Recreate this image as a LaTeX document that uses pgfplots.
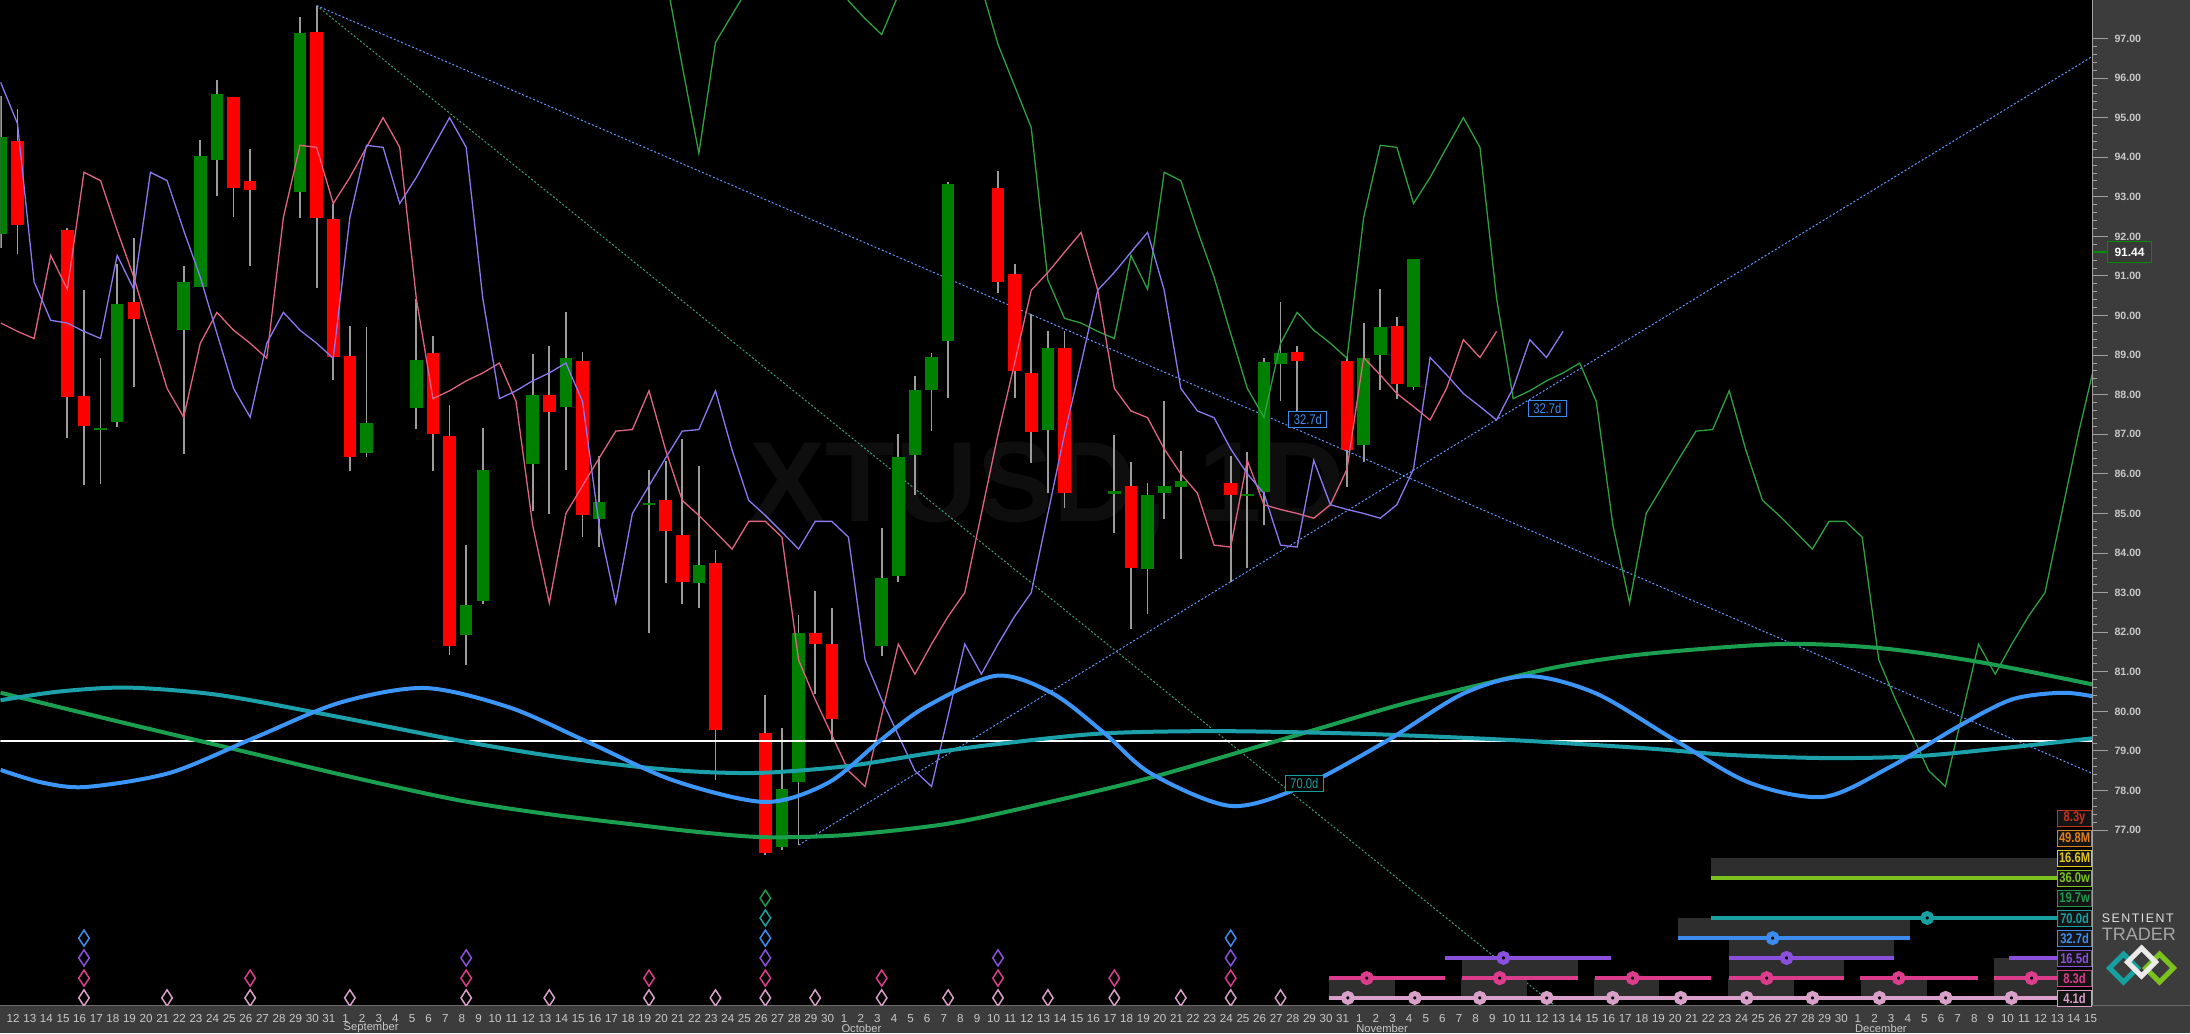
\documentclass[border=0pt]{standalone}
\usepackage{pgfplots}
\pgfplotsset{compat=1.18}
\usepackage{pgfplotstable}
\usepackage{fontspec}
\setmainfont{Liberation Sans}
\newfontfamily\narrow[FakeStretch=0.8]{Liberation Sans}
\usetikzlibrary{plotmarks}

\definecolor{panel}{HTML}{3C3C3C}
\definecolor{panelline}{HTML}{6A6A6A}
\definecolor{labgray}{HTML}{C8C8C8}
\definecolor{tickgray}{HTML}{A0A0A0}
\definecolor{cup}{HTML}{008000}
\definecolor{cdn}{HTML}{FF0000}
\definecolor{wick}{HTML}{9C9C9C}
\definecolor{fldpink}{HTML}{E06482}
\definecolor{fldpurple}{HTML}{8C78F0}
\definecolor{fldgreen}{HTML}{2EA043}
\definecolor{trendblue}{HTML}{6496FF}
\definecolor{trendteal}{HTML}{3CA078}
\definecolor{cycblue}{HTML}{3C96F8}
\definecolor{cycteal}{HTML}{1CA0AA}
\definecolor{cycgreen}{HTML}{1A9E50}
\definecolor{boxgray}{HTML}{2E2E2E}
\definecolor{wmark}{HTML}{0E0E0E}
\definecolor{cyr}{HTML}{C8321E}
\definecolor{cmo}{HTML}{E0801A}
\definecolor{cmt}{HTML}{E0C81A}
\definecolor{cwa}{HTML}{7CC21E}
\definecolor{cwb}{HTML}{1E9A50}
\definecolor{cda}{HTML}{18A0A0}
\definecolor{cdb}{HTML}{3C8CF0}
\definecolor{cdc}{HTML}{8A50DC}
\definecolor{cdd}{HTML}{DC3C8C}
\definecolor{cde}{HTML}{D8A0C8}

% daily candles, u = day counted from 12 Aug
\pgfplotstableread{
u o h l c
-1 92.05 95.55 91.71 94.51
5 87.10 88.93 85.75 87.16
6 87.31 91.29 87.19 90.30
10 89.63 91.25 86.50 90.85
11 90.73 94.43 90.73 94.03
12 93.92 95.95 93.02 95.59
17 93.11 97.55 92.47 97.13
21 86.53 89.71 86.42 87.29
24 87.67 90.41 87.14 88.87
27 81.93 84.21 81.16 82.69
28 82.78 87.16 82.71 86.11
31 86.25 89.02 85.05 87.99
33 87.69 90.10 86.11 88.93
35 84.86 86.44 84.15 85.28
38 85.21 86.11 81.98 85.27
41 83.24 86.19 82.61 83.69
46 76.58 79.57 76.49 78.05
47 78.22 82.44 76.62 81.99
52 81.64 84.63 81.39 83.38
53 83.41 87.02 83.28 86.43
54 86.49 88.47 85.47 88.11
55 88.11 89.05 87.09 88.95
56 89.35 93.38 87.92 93.32
62 87.11 89.60 85.53 89.17
66 85.50 86.98 84.51 85.56
68 83.59 85.76 82.46 85.47
69 85.53 87.85 84.85 85.70
70 85.67 86.57 83.84 85.81
74 85.44 86.55 83.61 85.50
75 85.55 88.92 84.72 88.83
76 88.78 90.33 87.85 89.06
81 86.72 89.82 86.30 88.94
82 89.00 90.67 88.11 89.71
84 88.19 91.44 88.11 91.44
}\upc

\pgfplotstableread{
u o h l c
0 94.41 95.21 91.56 92.30
3 92.17 92.22 86.91 87.95
4 87.96 90.64 85.73 87.20
7 90.34 91.95 88.19 89.92
13 95.53 95.53 92.49 93.23
14 93.40 94.20 91.25 93.18
18 97.17 97.83 90.69 92.47
19 92.43 92.81 88.38 88.95
20 88.97 89.73 86.07 86.43
25 89.06 89.48 86.07 87.00
26 86.95 87.73 81.43 81.64
32 87.99 89.23 84.99 87.57
34 88.85 89.08 84.40 84.97
39 85.33 86.33 83.24 84.55
40 84.45 86.89 82.71 83.28
42 83.76 84.08 78.26 79.53
45 79.45 80.42 76.37 76.41
48 81.97 83.03 80.43 81.70
49 81.70 82.62 79.23 79.81
59 93.21 93.66 90.56 90.86
60 91.04 91.31 87.92 88.60
61 88.56 90.05 86.27 87.06
63 89.17 89.62 85.14 85.53
67 85.70 86.30 82.09 83.63
73 85.78 86.46 83.27 85.47
77 89.09 89.23 87.59 88.86
80 88.86 88.95 85.67 86.60
83 89.73 89.96 87.90 88.26
}\dnc

% base line (pink); purple is it 4 days later, green 65 days later
\pgfplotstableread{
u v
-1 89.81
0 89.60
1 89.42
2 91.52
3 90.66
4 93.62
5 93.41
6 92.15
7 90.97
8 89.55
9 88.16
10 87.43
11 89.30
12 90.08
13 89.63
14 89.30
15 88.92
16 92.48
17 94.30
18 94.25
19 92.83
20 93.49
21 94.25
22 95.00
23 94.25
24 90.43
25 87.90
26 88.10
27 88.35
28 88.55
29 88.80
30 87.83
31 84.70
32 82.74
33 85.00
34 85.70
35 86.40
36 87.08
37 87.12
38 88.10
39 86.60
40 85.33
41 84.95
42 84.53
43 84.10
44 84.80
45 84.80
46 84.40
47 81.30
48 80.30
49 79.40
50 78.50
51 78.10
52 79.90
53 81.70
54 80.94
55 81.70
56 82.40
57 83.00
58 85.00
59 87.00
60 88.80
61 90.64
62 91.09
63 91.60
64 92.10
65 90.64
66 88.16
67 87.59
68 87.42
69 86.63
70 86.00
71 85.51
72 84.20
73 84.15
74 86.34
75 85.22
76 85.10
77 85.00
78 84.88
79 85.22
80 86.12
81 88.94
82 88.50
83 88.03
84 87.70
85 87.36
86 88.17
87 89.39
88 88.94
89 89.60
}\fld

\pgfplotsset{
  candle/.style 2 args={only marks, mark=*, mark size=0pt, mark options={draw=none, fill=none},
    error bars/.cd, y dir=both, y explicit, error mark=none,
    error bar style={draw=#1, line width=#2}},
}

\begin{document}
\begin{tikzpicture}
\begin{scope}[x=0.5pt,y=-0.5pt,shift={(0pt,516.5pt)}]
  \fill[black] (0,0) rectangle (2093,1005);
  \fill[panel] (2093,0) rectangle (2190,1033);
  \fill[panel] (0,1005) rectangle (2190,1033);
  \draw[panelline, line width=0.5pt] (0,1005) -- (2190,1005);
  \node[text=wmark, font=\bfseries\fontsize{57}{57}\selectfont] at (1047,490) {XTUSD, 1D};
\end{scope}

\begin{axis}[
  at={(0pt,14pt)}, anchor=south west,
  width=1046.5pt, height=502.5pt, scale only axis,
  xmin=-1.022, xmax=124.86, ymin=72.58, ymax=97.96,
  axis line style={draw=none},
  tick align=outside,
  xtick pos=left, ytick pos=right, yticklabel pos=right,
  major tick length=7.5pt, minor tick length=2pt,
  xtick={-0.26,0.74,...,124.8},
  xticklabels={12,13,14,15,16,17,18,19,20,21,22,23,24,25,26,27,28,29,30,31,
    1,2,3,4,5,6,7,8,9,10,11,12,13,14,15,16,17,18,19,20,21,22,23,24,25,26,27,28,29,30,
    1,2,3,4,5,6,7,8,9,10,11,12,13,14,15,16,17,18,19,20,21,22,23,24,25,26,27,28,29,30,31,
    1,2,3,4,5,6,7,8,9,10,11,12,13,14,15,16,17,18,19,20,21,22,23,24,25,26,27,28,29,30,
    1,2,3,4,5,6,7,8,9,10,11,12,13,14,15},
  xtick style={draw=none},
  ytick={77,...,97},
  yticklabels={77.00,78.00,79.00,80.00,81.00,82.00,83.00,84.00,85.00,86.00,87.00,
    88.00,89.00,90.00,91.00,92.00,93.00,94.00,95.00,96.00,97.00},
  minor y tick num=4,
  ytick style={draw=tickgray, line width=0.5pt},
  xticklabel style={font=\fontsize{5.8}{6}\selectfont, text=labgray, yshift=6.2pt},
  yticklabel style={font=\bfseries\fontsize{5.3}{6}\selectfont, text=labgray},
  clip marker paths=true,
]
% trend lines
\addplot[trendteal, line width=0.5pt, dash pattern=on 1pt off 1pt] coordinates {(18,97.83) (94,72.06)};
\addplot[trendblue, line width=0.5pt, dash pattern=on 1pt off 1pt] coordinates {(18,97.83) (124.86,78.43)};
\addplot[trendblue, line width=0.5pt, dash pattern=on 1pt off 1pt] coordinates {(47,76.62) (124.86,96.55)};

% candles: wicks then bodies
\addplot[candle={wick}{0.9pt}]
  table[x=u, y expr={(\thisrow{h}+\thisrow{l})/2}, y error expr={(\thisrow{h}-\thisrow{l})/2}] {\upc};
\addplot[candle={wick}{0.9pt}]
  table[x=u, y expr={(\thisrow{h}+\thisrow{l})/2}, y error expr={(\thisrow{h}-\thisrow{l})/2}] {\dnc};
\addplot[candle={cup}{6.3pt}]
  table[x=u, y expr={(\thisrow{o}+\thisrow{c})/2}, y error expr={abs(\thisrow{c}-\thisrow{o})/2}] {\upc};
\addplot[candle={cdn}{6.3pt}]
  table[x=u, y expr={(\thisrow{o}+\thisrow{c})/2}, y error expr={abs(\thisrow{c}-\thisrow{o})/2}] {\dnc};

% thin offset lines
\addplot[fldgreen, line width=0.65pt] coordinates {(38,99.5) (39,98.6) (40,96.3) (41,94.1) (42,96.9)
  (43,97.6) (44,98.3) (45,99.2) (46,99.5) (47,99.5) (48,99.3) (49,98.8) (50,97.95) (51,97.5) (52,97.1)
  (53,98.1) (54,98.9) (55,99.3) (56,99.3) (57,99.0) (58,98.3) (59,96.85) (60,95.8) (61,94.75)
  (62,90.9) (63,89.93) (64,89.81)};
\addplot[fldgreen, line width=0.65pt] table[x expr=\thisrow{u}+65, y=v] {\fld};
\addplot[fldpink, line width=0.65pt] table[x=u, y=v] {\fld};
\addplot[fldpurple, line width=0.65pt] coordinates {(-1.02,95.90) (0,94.85) (1,90.85) (2,89.88) (3,89.81)};
\addplot[fldpurple, line width=0.65pt] table[x expr=\thisrow{u}+4, y=v] {\fld};

% white level line
\addplot[white, line width=1pt] coordinates {(-1.022,79.26) (124.86,79.26)};

% cycle curves
\addplot[cycgreen, line width=2pt, smooth] coordinates {(-1.02,80.47) (6,79.75) (13,79.05) (20,78.35)
  (26.6,77.75) (32,77.4) (37.3,77.13) (41,76.95) (45,76.82) (50,76.88) (56.1,77.17) (62,77.7)
  (68.4,78.35) (77.3,79.44) (83.2,80.17) (88.3,80.7) (93,81.15) (98.2,81.46) (106.1,81.7)
  (112,81.6) (118,81.25) (124.86,80.68)};
\addplot[cycteal, line width=2pt, smooth] coordinates {(-1.02,80.28) (2.5,80.5) (6.65,80.6) (12,80.42)
  (18.2,79.95) (26.6,79.26) (32,78.88) (37.3,78.6) (41.2,78.47) (45,78.45) (50,78.62) (55,78.95)
  (59.1,79.18) (65.2,79.44) (72.2,79.5) (80.3,79.44) (86,79.35) (91,79.25) (98.2,79.06) (103,78.9)
  (108.7,78.82) (114,78.86) (119,79.05) (124.86,79.32)};
\addplot[cycblue, line width=2pt, smooth] coordinates {(-1.02,78.52) (1.5,78.2) (4.15,78.09) (9.2,78.45)
  (14.3,79.34) (19.4,80.22) (24.5,80.59) (29.6,80.1) (34.3,79.23) (39.5,78.25) (45,77.71) (48.8,78.2)
  (51.9,79.26) (54.6,80.1) (58.9,80.9) (62.3,80.45) (65.4,79.45) (68.2,78.43) (73,77.61) (77.3,78.1)
  (82.3,79.23) (87,80.45) (90.9,80.89) (95,80.45) (99.7,79.28) (104.2,78.2) (108.7,77.84)
  (112.7,78.6) (116.7,79.6) (120,80.3) (123,80.47) (124.86,80.38)};

% cycle trough diamonds
\addplot[only marks, mark=diamond, mark size=3.5pt, mark options={draw=cde, line width=0.75pt, yscale=1.15}]
  coordinates {(4,72.76) (9,72.76) (14,72.76) (20,72.76) (27,72.76) (32,72.76) (38,72.76) (42,72.76)
  (45,72.76) (48,72.76) (52,72.76) (56,72.76) (59,72.76) (62,72.76) (66,72.76) (70,72.76) (73,72.76) (76,72.76)};
\addplot[only marks, mark=diamond, mark size=3.5pt, mark options={draw=cdd, line width=0.75pt, yscale=1.15}]
  coordinates {(4,73.26) (14,73.26) (27,73.26) (38,73.26) (45,73.26) (52,73.26) (59,73.26) (66,73.26) (73,73.26)};
\addplot[only marks, mark=diamond, mark size=3.5pt, mark options={draw=cdc, line width=0.75pt, yscale=1.15}]
  coordinates {(4,73.77) (27,73.77) (45,73.77) (59,73.77) (73,73.77)};
\addplot[only marks, mark=diamond, mark size=3.5pt, mark options={draw=cdb, line width=0.75pt, yscale=1.15}]
  coordinates {(4,74.27) (45,74.27) (73,74.27)};
\addplot[only marks, mark=diamond, mark size=3.5pt, mark options={draw=cda, line width=0.75pt, yscale=1.15}]
  coordinates {(45,74.78)};
\addplot[only marks, mark=diamond, mark size=3.5pt, mark options={draw=cwb, line width=0.75pt, yscale=1.15}]
  coordinates {(45,75.28)};

% cycle phase boxes
\addplot[fill=boxgray, draw=none] coordinates {(101.88,76.29) (122.75,76.29) (122.75,75.79) (101.88,75.79)};
\addplot[fill=boxgray, draw=none] coordinates {(99.90,74.78) (113.85,74.78) (113.85,74.27) (99.90,74.27)};
\addplot[fill=boxgray, draw=none] coordinates {(102.97,74.27) (112.89,74.27) (112.89,73.77) (102.97,73.77)};
\addplot[fill=boxgray, draw=none] coordinates {(86.91,73.77) (93.88,73.77) (93.88,73.26) (86.91,73.26)};
\addplot[fill=boxgray, draw=none] coordinates {(102.97,73.77) (109.88,73.77) (109.88,73.26) (102.97,73.26)};
\addplot[fill=boxgray, draw=none] coordinates {(118.90,73.77) (122.75,73.77) (122.75,73.26) (118.90,73.26)};
\addplot[fill=boxgray, draw=none] coordinates {(78.91,73.26) (82.88,73.26) (82.88,72.76) (78.91,72.76)};
\addplot[fill=boxgray, draw=none] coordinates {(86.85,73.26) (90.82,73.26) (90.82,72.76) (86.85,72.76)};
\addplot[fill=boxgray, draw=none] coordinates {(94.85,73.26) (98.80,73.26) (98.80,72.76) (94.85,72.76)};
\addplot[fill=boxgray, draw=none] coordinates {(102.91,73.26) (106.87,73.26) (106.87,72.76) (102.91,72.76)};
\addplot[fill=boxgray, draw=none] coordinates {(110.90,73.26) (114.87,73.26) (114.87,72.76) (110.90,72.76)};
\addplot[fill=boxgray, draw=none] coordinates {(118.90,73.26) (122.75,73.26) (122.75,72.76) (118.90,72.76)};

% cycle bars
\addplot[cwa, line width=1.8pt] coordinates {(101.88,75.79) (122.75,75.79)};
\addplot[cda, line width=1.8pt] coordinates {(101.88,74.78) (122.75,74.78)};
\addplot[cdb, line width=1.8pt] coordinates {(99.90,74.27) (113.85,74.27)};
\addplot[cdc, line width=1.8pt] coordinates {(85.88,73.77) (95.87,73.77)};
\addplot[cdc, line width=1.8pt] coordinates {(102.97,73.77) (112.89,73.77)};
\addplot[cdc, line width=1.8pt] coordinates {(119.86,73.77) (122.75,73.77)};
\addplot[cdd, line width=1.8pt] coordinates {(78.91,73.26) (85.88,73.26)};
\addplot[cdd, line width=1.8pt] coordinates {(86.91,73.26) (93.88,73.26)};
\addplot[cdd, line width=1.8pt] coordinates {(94.91,73.26) (101.88,73.26)};
\addplot[cdd, line width=1.8pt] coordinates {(102.97,73.26) (109.88,73.26)};
\addplot[cdd, line width=1.8pt] coordinates {(110.84,73.26) (117.94,73.26)};
\addplot[cdd, line width=1.8pt] coordinates {(118.90,73.26) (122.75,73.26)};
\addplot[cde, line width=1.8pt] coordinates {(78.91,72.76) (122.75,72.76)};
\addplot[only marks, mark=*, mark size=2.2pt, mark options={draw=cda, fill=black, line width=2.5pt}] coordinates {(114.91,74.78)};
\addplot[only marks, mark=*, mark size=2.2pt, mark options={draw=cdb, fill=black, line width=2.5pt}] coordinates {(105.61,74.27)};
\addplot[only marks, mark=*, mark size=2.2pt, mark options={draw=cdc, fill=black, line width=2.5pt}] coordinates {(89.41,73.77) (106.45,73.77)};
\addplot[only marks, mark=*, mark size=2.2pt, mark options={draw=cdd, fill=black, line width=2.5pt}]
  coordinates {(81.19,73.26) (89.19,73.26) (97.19,73.26) (105.25,73.26) (113.19,73.26) (121.19,73.26)};
\addplot[only marks, mark=*, mark size=2.2pt, mark options={draw=cde, fill=black, line width=2.5pt}]
  coordinates {(80.05,72.76) (84.08,72.76) (87.99,72.76) (92.02,72.76) (95.99,72.76) (100.08,72.76)
  (104.05,72.76) (108.01,72.76) (112.04,72.76) (116.02,72.76) (119.98,72.76)};
\end{axis}

\begin{scope}[x=0.5pt,y=-0.5pt,shift={(0pt,516.5pt)}]
  \draw[tickgray, line width=0.5pt] (2093,0) -- (2093,1005);
  % month names
  \foreach \m/\xx in {September/343, October/841, November/1356, December/1855}
    \node[anchor=west, inner sep=0pt, text=labgray, font=\fontsize{5.6}{6}\selectfont] at (\xx,1028) {\m};
  % labels on the chart
  \node[draw=cdb, fill=black, text=cdb, line width=0.5pt, inner sep=0pt, minimum width=19pt,
    minimum height=8pt, font=\narrow\fontsize{7}{7}\selectfont] at (1308,419) {32.7d};
  \node[draw=cdb, fill=black, text=cdb, line width=0.5pt, inner sep=0pt, minimum width=19pt,
    minimum height=8pt, font=\narrow\fontsize{7}{7}\selectfont] at (1547.5,408.5) {32.7d};
  \node[draw=cda, fill=black, text=cda, line width=0.5pt, inner sep=0pt, minimum width=19pt,
    minimum height=8pt, font=\narrow\fontsize{7}{7}\selectfont] at (1304.5,783.5) {70.0d};
  % cycle legend
  \foreach \lab/\col/\yy in {8.3y/cyr/818, 49.8M/cmo/838, 16.6M/cmt/858, 36.0w/cwa/878, 19.7w/cwb/898,
      70.0d/cda/918, 32.7d/cdb/938, 16.5d/cdc/958, 8.3d/cdd/978, 4.1d/cde/998}
    \node[draw=\col, fill=black!92, text=\col, line width=0.5pt, inner sep=0pt, minimum width=17pt,
      minimum height=8pt, font=\narrow\bfseries\fontsize{7}{7}\selectfont] at (2075,\yy) {\lab};
  % last price
  \draw[green!55!black, line width=1pt] (2093,252) -- (2108,252);
  \node[draw=green!55!black, fill=black!78, text=white, line width=0.8pt, inner sep=0pt,
    minimum width=22pt, minimum height=10.5pt, font=\bfseries\fontsize{6}{6}\selectfont] at (2130,251.5) {91.44};
  % logo
  \node[anchor=west, inner sep=0pt, text=black!12, font=\fontsize{6.2}{6}\selectfont\addfontfeature{LetterSpace=12}]
    at (2102,918) {SENTIENT};
  \node[anchor=west, inner sep=0pt, text=black!35, font=\fontsize{9}{9}\selectfont] at (2102,934) {TRADER};
  \draw[cda, line width=2.5pt] (2110,968) -- (2124,954) -- (2138,968) -- (2124,982) -- cycle;
  \draw[cwa, line width=2.5pt] (2146,968) -- (2160,954) -- (2174,968) -- (2160,982) -- cycle;
  \draw[black!8, line width=2.5pt] (2128,962) -- (2142,948) -- (2156,962) -- (2142,976) -- cycle;
\end{scope}
\end{tikzpicture}
\end{document}
